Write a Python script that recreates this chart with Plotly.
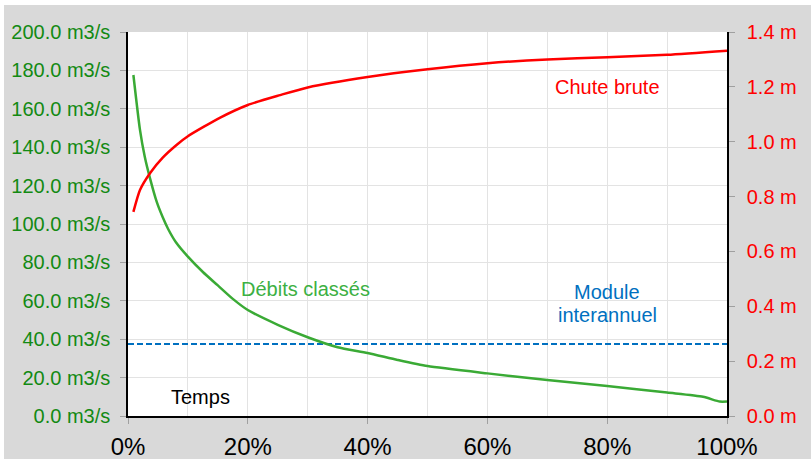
import plotly.graph_objects as go

# Débits classés (x in fraction of time, Q in m3/s)
debit_x = [0.009, 0.02, 0.028, 0.037, 0.048, 0.058, 0.067, 0.08, 0.10, 0.125, 0.15, 0.175,
           0.20, 0.25, 0.30, 0.35, 0.40, 0.45, 0.50, 0.60, 0.70, 0.80, 0.90, 0.96, 0.988, 1.0]
debit_y = [177.6, 149.0, 135.0, 123.5, 111.5, 103.5, 97.4, 90.5, 83.0, 75.0, 68.0, 61.0,
           55.2, 47.5, 41.0, 35.8, 32.8, 29.2, 26.0, 22.2, 18.75, 15.6, 12.2, 10.0, 7.5, 7.5]

# Chute brute (m)
chute_x = [0.009, 0.02, 0.037, 0.058, 0.082, 0.10, 0.154, 0.20, 0.254, 0.30,
           0.40, 0.50, 0.60, 0.70, 0.80, 0.90, 1.0]
chute_y = [0.744, 0.824, 0.886, 0.942, 0.99, 1.02, 1.088, 1.134, 1.17, 1.198,
           1.236, 1.264, 1.286, 1.300, 1.308, 1.317, 1.332]

# Module interannuel (m3/s)
module_x = [0.0, 1.0]
module_y = [37.5, 37.5]

x_tickvals = [0, 0.2, 0.4, 0.6, 0.8, 1.0]
x_ticktext = ["0%", "20%", "40%", "60%", "80%", "100%"]

FONT = "Liberation Sans, Arial, sans-serif"
W, H = 811, 461
L, R, T, B = 128, 84, 32, 45
pw, ph = W - L - R, H - T - B

fig = go.Figure()
fig.add_trace(go.Scatter(x=module_x, y=module_y, mode="lines",
                         line=dict(color="#0070c0", width=2, dash="6px,3px"),
                         showlegend=False, hoverinfo="skip"))
fig.add_trace(go.Scatter(x=debit_x, y=debit_y, mode="lines",
                         line=dict(color="#3aaa35", width=2.5, shape="spline", smoothing=0.6),
                         showlegend=False))
fig.add_trace(go.Scatter(x=chute_x, y=chute_y, mode="lines", yaxis="y2",
                         line=dict(color="#ff0000", width=2.5, shape="spline", smoothing=0.6),
                         showlegend=False))

def px2paper_x(px):
    return (px - L) / pw

def px2paper_y(py):
    return (H - B - py) / ph

white = dict(type="rect", xref="paper", yref="paper", layer="above",
             fillcolor="white", line=dict(width=0))

def label(text, cx, cy, color):
    return dict(text=text, x=px2paper_x(cx), y=px2paper_y(cy), xref="paper", yref="paper",
                xanchor="center", yanchor="middle", showarrow=False,
                font=dict(size=20, color=color))

fig.update_layout(
    width=W, height=H,
    margin=dict(l=L, r=R, t=T, b=B, pad=0, autoexpand=False),
    paper_bgcolor="#d9d9d9",
    plot_bgcolor="white",
    font=dict(family=FONT, size=20),
    xaxis=dict(range=[0, 1], tickvals=x_tickvals, ticktext=x_ticktext,
               tickfont=dict(size=24, color="black"),
               showgrid=True, gridcolor="#e3e3e3",
               minor=dict(dtick=0.1, tick0=0, showgrid=True, gridcolor="#e3e3e3", ticks=""),
               ticks="outside", ticklen=6, tickcolor="#a0a0a0",
               showline=True, linecolor="black", linewidth=1.5,
               zeroline=False, ticklabelstandoff=2, automargin=False),
    yaxis=dict(range=[0, 200], dtick=20, tick0=0, tickformat=".1f", ticksuffix=" m3/s",
               tickfont=dict(size=20, color="#138a13"),
               showgrid=True, gridcolor="#e3e3e3",
               ticks="outside", ticklen=6, tickcolor="#a0a0a0",
               showline=True, linecolor="black", linewidth=1.5,
               zeroline=False, ticklabelstandoff=6, automargin=False),
    yaxis2=dict(range=[0, 1.4], dtick=0.2, tick0=0, tickformat=".1f", ticksuffix=" m",
                overlaying="y", side="right",
                tickfont=dict(size=20, color="#ff0000"),
                showgrid=False,
                ticks="outside", ticklen=6, tickcolor="#a0a0a0",
                showline=True, linecolor="black", linewidth=1.5,
                zeroline=False, ticklabelstandoff=8, automargin=False),
    shapes=[
        dict(white, x0=px2paper_x(-2), x1=px2paper_x(W + 2), y0=px2paper_y(5), y1=px2paper_y(-2)),
        dict(white, x0=px2paper_x(-2), x1=px2paper_x(4), y0=px2paper_y(H + 2), y1=px2paper_y(-2)),
        dict(white, x0=px2paper_x(-2), x1=px2paper_x(W + 2), y0=px2paper_y(H + 2), y1=px2paper_y(459)),
    ],
    annotations=[
        label("Chute brute", 607, 87, "#ff0000"),
        label("Module", 607, 292, "#0070c0"),
        label("interannuel", 607, 315, "#0070c0"),
        label("Débits classés", 305, 289, "#3cb043"),
        label("Temps", 200, 397, "black"),
    ],
)

fig.write_html("out.html")
